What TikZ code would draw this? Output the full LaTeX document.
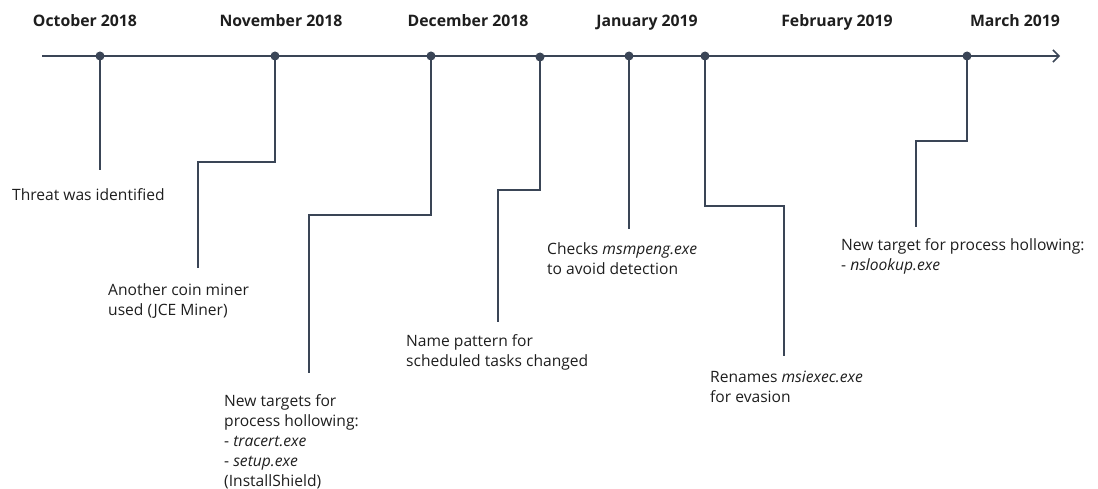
\documentclass[tikz,border=0pt]{standalone}
\usepackage{fontspec}
\setmainfont{Open Sans}
\usetikzlibrary{arrows.meta}
\definecolor{tlline}{HTML}{3A4556}
\definecolor{tltext}{HTML}{1E1E1E}

\begin{document}
\begin{tikzpicture}[x=1pt,y=-1pt,
    axis/.style={line width=1.7pt,tlline,-{Straight Barb[length=6pt,width=12pt,line width=1.5pt]}},
    stem/.style={line width=1.7pt,tlline},
    month/.style={font=\fontsize{15.8}{18}\selectfont\bfseries,text=tltext,inner sep=0pt,anchor=base},
    event/.style={font=\fontsize{15.6}{20}\selectfont,text=tltext,inner sep=0pt,anchor=north west,align=left},
    dot/.style={circle,fill=tlline,inner sep=0pt,minimum size=9pt}]
    \useasboundingbox (0,0) rectangle (1098,489);

    % months
    \node[month] (m-oct) at (85,27) {October 2018};
    \node[month] (m-nov) at (281,27) {November 2018};
    \node[month] (m-dec) at (468,27) {December 2018};
    \node[month] (m-jan) at (647,27) {January 2019};
    \node[month] (m-feb) at (837,27) {February 2019};
    \node[month] (m-mar) at (1015,27) {March 2019};

    % time axis
    \coordinate (tl-start) at (42,56);
    \coordinate (tl-end) at (1060,56);
    \draw[axis] (tl-start) -- (tl-end);

    \node[dot] (d1) at (100,56) {};
    \node[dot] (d2) at (275,56) {};
    \node[dot] (d3) at (431,56) {};
    \node[dot] (d4) at (540,57) {};
    \node[dot] (d5) at (629,56) {};
    \node[dot] (d6) at (705,56) {};
    \node[dot] (d7) at (967,56) {};

    % events
    \node[event] (ev1) at (12,188) {Threat was identified};
    \node[event] (ev2) at (108,283) {Another coin miner\\used (JCE Miner)};
    \node[event] (ev3) at (224,394) {New targets for\\process hollowing:\\- \textit{tracert.exe}\\- \textit{setup.exe}\\(InstallShield)};
    \node[event] (ev4) at (406,334) {Name pattern for\\scheduled tasks changed};
    \node[event] (ev5) at (547,242) {Checks \textit{msmpeng.exe}\\to avoid detection};
    \node[event] (ev6) at (710,371) {Renames \textit{msiexec.exe}\\for evasion};
    \node[event] (ev7) at (841,238) {New target for process hollowing:\\- \textit{nslookup.exe}};

    \coordinate (e1) at (100,170);
    \coordinate (e2) at (198,268);
    \coordinate (e3) at (309,373);
    \coordinate (e4) at (498,322);
    \coordinate (e5) at (629,229);
    \coordinate (e6) at (784,356);
    \coordinate (e7) at (916,227);

    \draw[stem] (d1.center) -- (e1);
    \draw[stem] (d2.center) -- (275,162) -| (e2);
    \draw[stem] (d3.center) -- (431,215) -| (e3);
    \draw[stem] (d4.center) -- (540,190) -| (e4);
    \draw[stem] (d5.center) -- (e5);
    \draw[stem] (d6.center) -- (705,206) -| (e6);
    \draw[stem] (d7.center) -- (967,141) -| (e7);
\end{tikzpicture}
\end{document}
